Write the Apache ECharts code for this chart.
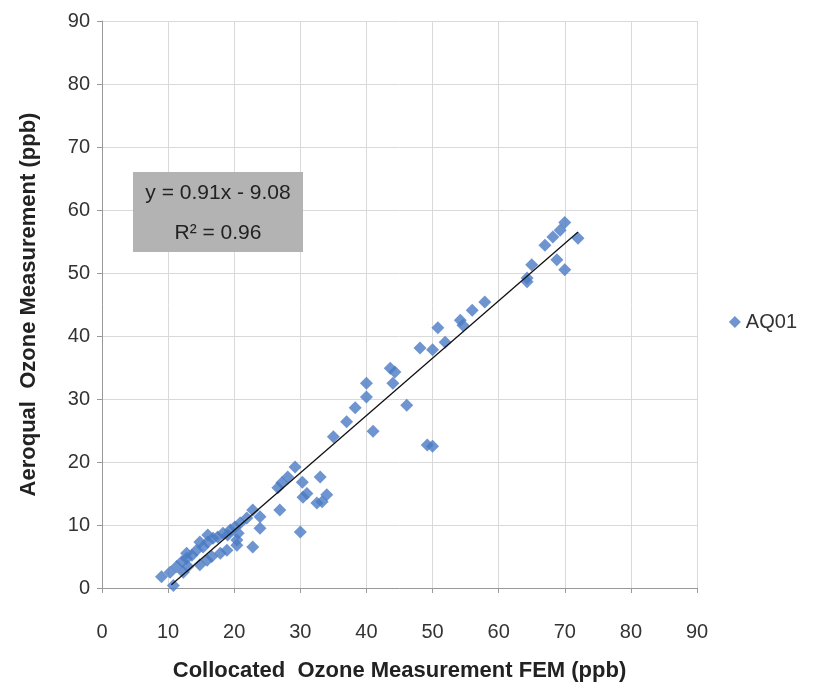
<!DOCTYPE html>
<html>
<head>
<meta charset="utf-8">
<title>Aeroqual vs FEM ozone</title>
<script src="https://cdn.jsdelivr.net/npm/echarts@6/dist/echarts.min.js"></script>
<style>
  html, body { margin: 0; padding: 0; background: #fff; }
  #chart { width: 824px; height: 693px; }
</style>
</head>
<body>
<div id="chart"></div>
<script>
// FEM reference (x) vs Aeroqual sensor (y), ppb
const femX = [
  9, 10.3, 10.8, 11.3, 12.1, 12.3, 12.8, 12.8, 13, 13.6, 14.3, 14.8, 14.8, 15.3, 15.9,
  16, 16, 16.6, 16.8, 17.5, 17.9, 18.3, 18.9, 19, 19.4, 20.1, 20.4, 20.4, 20.6, 20.9,
  21.9, 22.8, 22.8, 23.9, 23.9, 26.6, 26.9, 27.2, 28.1, 29.2, 30, 30.3, 30.4, 31, 32.5,
  33, 33.3, 34, 35, 37, 38.3, 40, 40, 41, 43.6, 44, 44.3, 46.1, 48.1, 49.2,
  50, 50, 50.8, 51.9, 54.2, 54.6, 56, 57.9, 64.3, 64.3, 65, 67, 68.2, 68.8, 69.3,
  70, 70, 72
];
const aqY = [
  1.8, 2.5, 0.4, 3.4, 4.2, 2.5, 4.7, 5.5, 3.4, 5.2, 6, 3.7, 7.3, 6.5, 4.4,
  7.3, 8.4, 5, 7.9, 8.1, 5.5, 8.7, 6, 8.4, 9.2, 9.7, 6.8, 7.6, 8.7, 10.3,
  11.1, 12.4, 6.5, 11.3, 9.5, 15.9, 12.4, 16.7, 17.6, 19.2, 8.9, 16.8, 14.4, 15, 13.5,
  17.6, 13.7, 14.8, 24, 26.4, 28.6, 32.5, 30.3, 24.9, 34.9, 32.5, 34.3, 29, 38.1, 22.7,
  22.5, 37.8, 41.3, 39, 42.5, 41.7, 44.1, 45.4, 48.6, 49.2, 51.3, 54.4, 55.7, 52.1, 56.8,
  58, 50.5, 55.5
];
// linear trend line ends
const trendX = [10.5, 72];
const trendY = [0.5, 56.5];
const axisTicks = [0, 10, 20, 30, 40, 50, 60, 70, 80, 90];

const chart = echarts.init(document.getElementById('chart'));
const font = 'Liberation Sans';

const points = femX.map((x, i) => [x, aqY[i]]);
const trend = trendX.map((x, i) => [x, trendY[i]]);

chart.setOption({
  animation: false,
  backgroundColor: '#fff',
  textStyle: { fontFamily: font },
  grid: { left: 102, right: 127, top: 21, bottom: 105 },
  legend: {
    right: 22,
    top: 307,
    itemWidth: 12,
    itemHeight: 12,
    itemGap: 4,
    data: [{ name: 'AQ01', icon: 'diamond' }],
    textStyle: { fontSize: 20, color: '#333', fontFamily: font }
  },
  xAxis: {
    type: 'value',
    min: axisTicks[0],
    max: axisTicks[axisTicks.length - 1],
    interval: 10,
    name: 'Collocated  Ozone Measurement FEM (ppb)',
    nameLocation: 'middle',
    nameGap: 72,
    nameTextStyle: { fontSize: 22, fontWeight: 'bold', color: '#222', fontFamily: font },
    axisLine: { lineStyle: { color: '#999' } },
    axisTick: { show: true, length: 5, lineStyle: { color: '#999' } },
    axisLabel: { fontSize: 20, color: '#333', margin: 34 },
    splitLine: { lineStyle: { color: '#d9d9d9' } }
  },
  yAxis: {
    type: 'value',
    min: axisTicks[0],
    max: axisTicks[axisTicks.length - 1],
    interval: 10,
    name: 'Aeroqual  Ozone Measurement (ppb)',
    nameLocation: 'middle',
    nameGap: 62,
    nameTextStyle: { fontSize: 22, fontWeight: 'bold', color: '#222', fontFamily: font },
    axisLine: { show: true, lineStyle: { color: '#999' } },
    axisTick: { show: true, length: 5, lineStyle: { color: '#999' } },
    axisLabel: { fontSize: 20, color: '#333', margin: 12 },
    splitLine: { lineStyle: { color: '#d9d9d9' } }
  },
  series: [
    {
      name: 'AQ01',
      type: 'scatter',
      symbol: 'diamond',
      symbolSize: 13,
      itemStyle: { color: '#4a7bc4' },
      data: points,
      z: 2
    },
    {
      name: 'trend',
      type: 'line',
      data: trend,
      symbol: 'none',
      lineStyle: { color: '#111', width: 1.3 },
      z: 3
    }
  ],
  graphic: [
    {
      type: 'rect',
      shape: { x: 133, y: 172, width: 170, height: 80 },
      style: { fill: '#b3b3b3' },
      z: 10
    },
    {
      type: 'text',
      x: 218, y: 193,
      style: { text: 'y = 0.91x - 9.08', fontSize: 21, fill: '#222', align: 'center', verticalAlign: 'middle', fontFamily: font },
      z: 11
    },
    {
      type: 'text',
      x: 218, y: 233,
      style: { text: 'R² = 0.96', fontSize: 21, fill: '#222', align: 'center', verticalAlign: 'middle', fontFamily: font },
      z: 11
    }
  ]
});
</script>
</body>
</html>
